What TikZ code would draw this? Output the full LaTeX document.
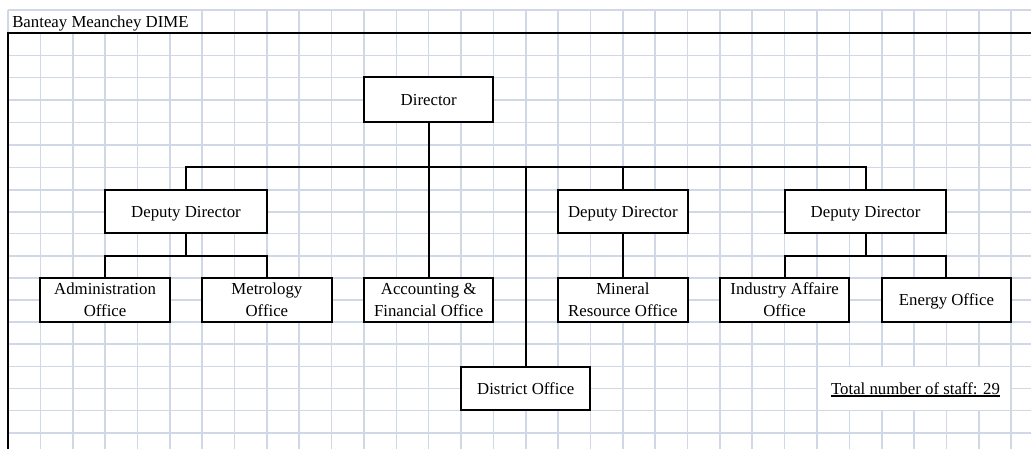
\documentclass[tikz,border=0pt]{standalone}
\usepackage{fontspec}
\setmainfont{Liberation Serif}
\definecolor{gridline}{HTML}{D0D7E5}
\newcommand\orgfont{\fontsize{12.6pt}{16.3pt}\selectfont}
% underline with a slightly heavier rule than \underline
\newcommand\heavyul[1]{\setbox0\hbox{#1}\rlap{\rule[-2pt]{\wd0}{0.95pt}}\box0}
\begin{document}
\begin{tikzpicture}[x=0.75pt,y=-0.75pt,
  gridrule/.style={draw=gridline, line width=1.2pt},
  sheetrule/.style={draw=black, line width=1.7pt, line join=miter},
  link/.style={draw=black, line width=1.5pt, line join=miter},
  orgbox/.style={draw=black, line width=1.5pt, fill=white, inner sep=0pt,
    align=center, font=\orgfont, minimum width=97.08pt, minimum height=32.9pt},
  widebox/.style={orgbox, minimum width=121.35pt},
  oneline/.style={text depth=0pt},
  plaintext/.style={font=\orgfont, inner sep=0pt},
]
\useasboundingbox (0,0) rectangle (1031,449);
\fill[white] (0,0) rectangle (1031,449);

% worksheet grid
\foreach \k in {0,...,31}
  \draw[gridrule] (8+32.36*\k,10) -- (8+32.36*\k,449);
\foreach \y in {10,33,55.4,77.4,100,122.4,145,167.4,189.7,211.7,233.3,255.7,
                277.9,300,321.8,344,366.5,388.6,410.3,432.7}
  \draw[gridrule] (8,\y) -- (1031,\y);

% sheet border
\draw[sheetrule] (1031,33) -- (8,33) -- (8,449);

% cells covered by text
\fill[white] (8.9,10.9) rectangle (201.4,32);
\fill[white] (817.9,367.3) rectangle (1010.3,409.5);

% title and staff count
\node[plaintext, anchor=base west] (title) at (12,27.7) {Banteay Meanchey DIME};
\node[plaintext, anchor=base] (staff) at (915.5,394) {\heavyul{Total number of staff: 29}};

% organisation boxes
\node[orgbox, oneline, minimum height=33.75pt] (dir) at (428.7,99.9) {Director};

\node[widebox, oneline, minimum height=32.7pt] (depA) at (185.98,211.5) {Deputy Director};
\node[orgbox, oneline, minimum height=32.7pt] (depB) at (622.84,211.5) {Deputy Director};
\node[widebox, oneline, minimum height=32.7pt] (depC) at (865.54,211.5) {Deputy Director};

\node[orgbox] (adm) at (105.08,299.85) {Administration\\Office};
\node[orgbox] (met) at (266.88,299.85) {Metrology\\Office};
\node[orgbox] (acc) at (428.7,299.85) {Accounting \&\\Financial Office};
\node[orgbox] (mnr) at (622.84,299.85) {Mineral\\Resource Office};
\node[orgbox] (ind) at (784.64,299.85) {Industry Affaire\\Office};
\node[orgbox, oneline] (ene) at (946.44,299.85) {Energy Office};

\node[orgbox, oneline, minimum height=32.85pt] (dst) at (525.76,388.4) {District Office};

% connector levels
\coordinate (bus) at (0,167.4);
\coordinate (subbus) at (0,255.7);

% connectors
\draw[link] (dir.south) -- (acc.north);
\draw[link] (depA.north) -- (depA.north |- bus) -- (depC.north |- bus) -- (depC.north);
\draw[link] (depB.north) -- (depB.north |- bus);
\draw[link] (dst.north) -- (dst.north |- bus);

\draw[link] (depA.south) -- (depA.south |- subbus);
\draw[link] (adm.north) -- (adm.north |- subbus) -- (met.north |- subbus) -- (met.north);

\draw[link] (depB.south) -- (mnr.north);

\draw[link] (depC.south) -- (depC.south |- subbus);
\draw[link] (ind.north) -- (ind.north |- subbus) -- (ene.north |- subbus) -- (ene.north);
\end{tikzpicture}
\end{document}
